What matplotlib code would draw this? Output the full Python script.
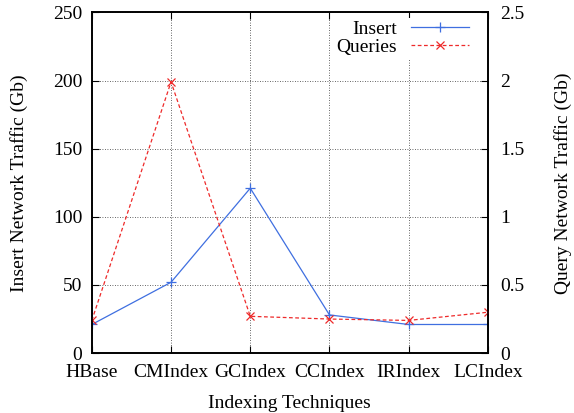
import matplotlib
matplotlib.use("Agg")
import matplotlib.pyplot as plt

plt.rcParams['font.family'] = ['Liberation Serif', 'DejaVu Serif']

techniques = ['HBase', 'CMIndex', 'GCIndex', 'CCIndex', 'IRIndex', 'LCIndex']
insert_gb = [21, 52, 121, 28, 21, 21]
query_gb = [0.24, 1.99, 0.27, 0.25, 0.24, 0.30]

fig, ax = plt.subplots(figsize=(5.74, 4.13), dpi=100)
fig.subplots_adjust(left=0.16, right=0.85, top=0.97, bottom=0.145)
ax2 = ax.twinx()

x = list(range(len(techniques)))
l1, = ax.plot(x, insert_gb, color='#3f6fe0', lw=0.9, marker='+', ms=7, mew=0.9, label='Insert')
l2, = ax2.plot(x, query_gb, color='#ee2a2a', lw=0.9, ls=(0, (3, 2)), marker='x', ms=6, mew=0.9, label='Queries')

ax.set_xlim(0, len(techniques) - 1)
ax.set_ylim(0, 250)
ax2.set_ylim(0, 2.5)
ax.set_xticks(x)
ax.set_xticklabels(techniques)
ax.set_yticks(range(0, 251, 50))
ax2.set_yticks([0, 0.5, 1, 1.5, 2, 2.5])
ax2.set_yticklabels(['0', '0.5', '1', '1.5', '2', '2.5'])

fs = 14
ax.grid(True, color='#333333', ls=(0, (1, 2)), lw=0.6)
ax.tick_params(axis='x', direction='in', length=5, labelsize=fs, top=True, pad=8)
ax.tick_params(axis='y', direction='in', length=5, labelsize=fs, pad=7)
ax2.tick_params(direction='in', length=5, labelsize=fs, pad=9)
for a in (ax, ax2):
    for s in a.spines.values():
        s.set_linewidth(1.2)

ax.set_xlabel('Indexing Techniques', fontsize=fs, labelpad=10)
ax.set_ylabel('Insert Network Traffic (Gb)', fontsize=fs, labelpad=18)
ax2.set_ylabel('Query Network Traffic (Gb)', fontsize=fs, labelpad=21)

ax2.legend([l1, l2], ['Insert', 'Queries'], loc='upper right',
           bbox_to_anchor=(0.96, 0.985), frameon=True,
           edgecolor='none', facecolor='white', framealpha=1, fancybox=False,
           markerfirst=False, fontsize=fs, handlelength=3.0, borderpad=0.15,
           labelspacing=0.0, borderaxespad=0, handletextpad=0.7)

fig.savefig('out.png')
